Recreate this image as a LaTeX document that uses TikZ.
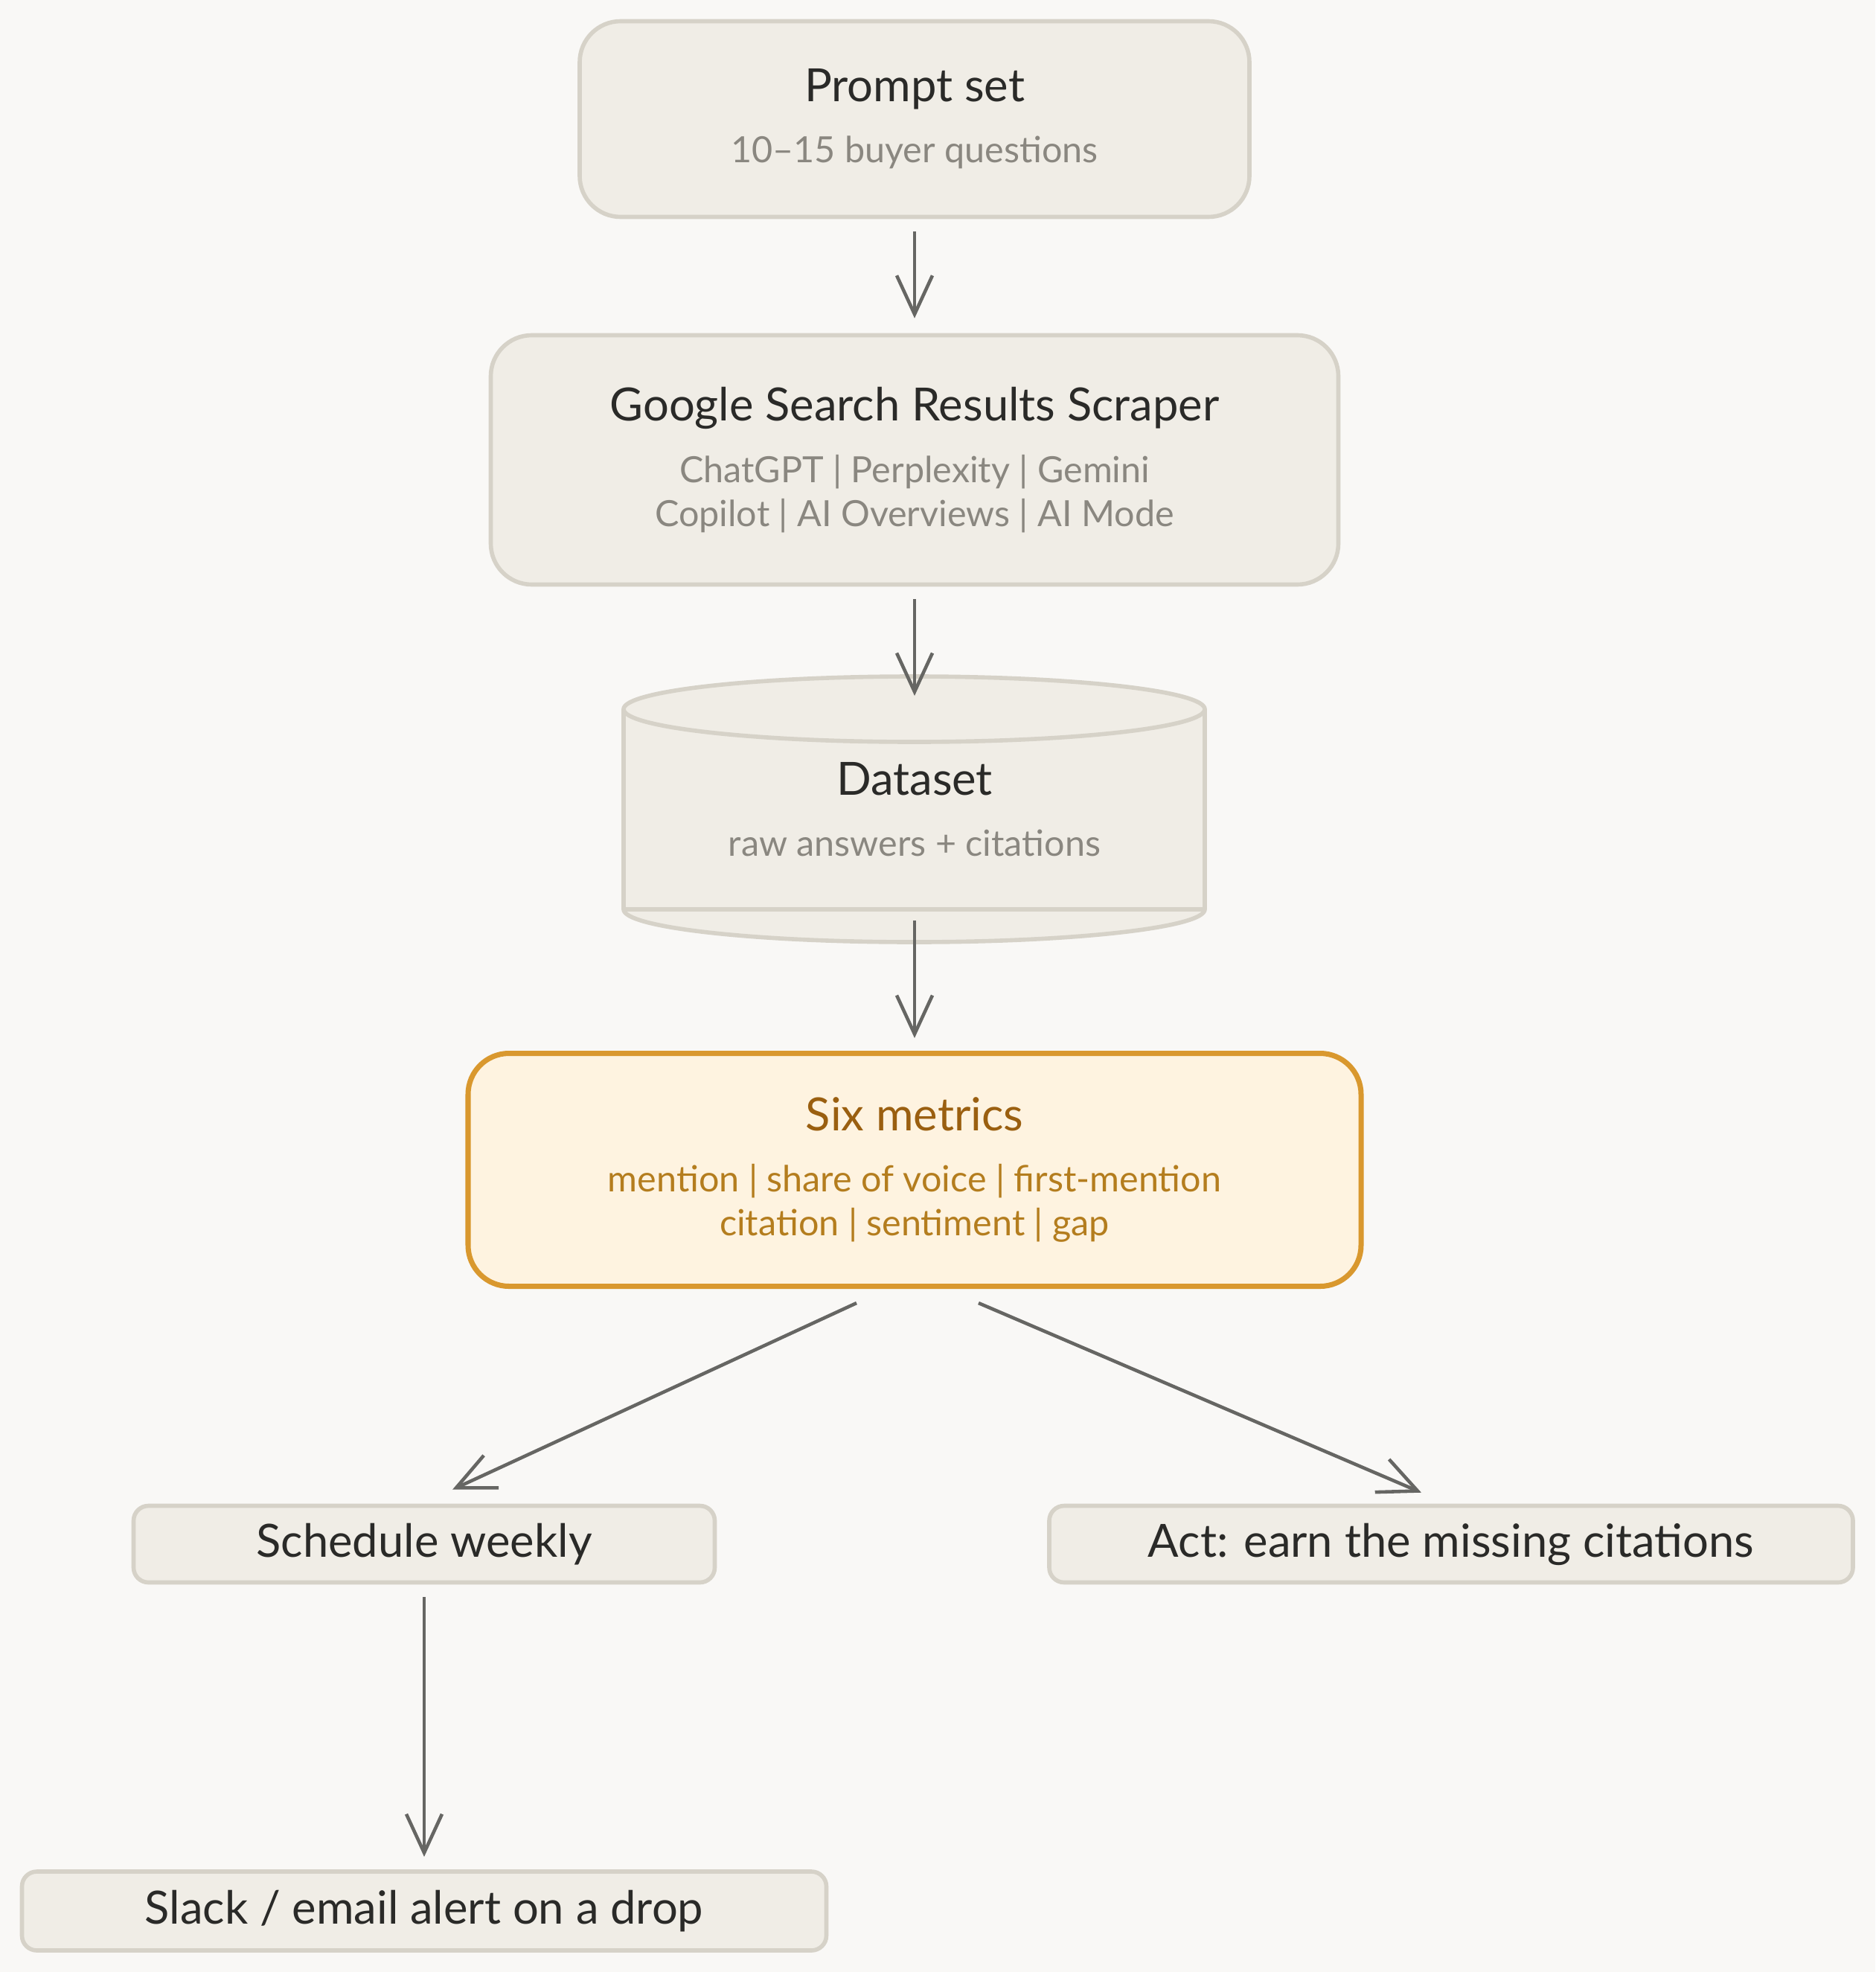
\documentclass[tikz,border=0pt]{standalone}
\usepackage{fontspec}
\setmainfont{Lato}
\definecolor{sketchbg}{HTML}{F9F8F6}
\definecolor{boxfill}{HTML}{F0EDE6}
\definecolor{boxline}{HTML}{D6D2C8}
\definecolor{inkdark}{HTML}{2A2A28}
\definecolor{inkgrey}{HTML}{8A8780}
\definecolor{arrowgrey}{HTML}{666663}
\definecolor{hlfill}{HTML}{FEF3E0}
\definecolor{hlline}{HTML}{D9982E}
\definecolor{hltitle}{HTML}{9A5F10}
\definecolor{hlsub}{HTML}{B47D1E}
\usetikzlibrary{arrows.meta,positioning,calc}
\newcommand{\titlefont}{\fontsize{17.5}{21}\selectfont}
\newcommand{\subfont}{\fontsize{13.8}{16.8}\selectfont}

\begin{document}
\begin{tikzpicture}[
    stage/.style={draw=boxline,line width=1.6pt,fill=boxfill,rounded corners=0.55cm,
                  align=center,font=\subfont,text=inkgrey,inner sep=0pt},
    hlstage/.style={stage,draw=hlline,line width=2pt,fill=hlfill,text=hlsub},
    smallstage/.style={stage,rounded corners=0.2cm,font=\titlefont,text=inkdark},
    flow/.style={draw=arrowgrey,line width=1.3pt,
                 -{Straight Barb[length=5.2mm,width=4.8mm]}}]
  \useasboundingbox[fill=sketchbg] (0,0) rectangle (25.2,-26.5);

  %% Prompt set (top)
  \node[stage,minimum width=9.0cm,minimum height=2.63cm] (prompt) at (12.29,-1.60)
        {{\titlefont\color{inkdark}Prompt set}\\[6.6pt]
         10--15 buyer questions};

  %% Scraper
  \node[stage,minimum width=11.39cm,minimum height=3.35cm] (scraper) at (12.29,-6.18)
        {{\titlefont\color{inkdark}Google Search Results Scraper}\\[6.6pt]
         ChatGPT | Perplexity | Gemini\\
         Copilot | AI Overviews | AI Mode};

  %% Dataset (cylinder)
  \path[fill=boxfill] (8.38,-9.53) -- (8.38,-12.22) arc (180:360:3.905 and 0.44)
        -- (16.19,-9.53) arc (0:180:3.905 and 0.44) -- cycle;
  \draw[boxline,line width=1.6pt] (8.38,-9.53) -- (8.38,-12.22) arc (180:360:3.905 and 0.44)
        -- (16.19,-9.53);
  \draw[boxline,line width=1.6pt] (12.285,-9.53) ellipse (3.905 and 0.44);
  \draw[boxline,line width=1.6pt] (8.38,-12.22) -- (16.19,-12.22);
  \node[align=center,font=\subfont,text=inkgrey] (data) at (12.29,-10.88)
        {{\titlefont\color{inkdark}Dataset}\\[6.6pt]
         raw answers + citations};
  \coordinate (datatop) at (12.29,-9.35);
  \coordinate (databot) at (12.29,-12.37);

  %% Six metrics (highlighted)
  \node[hlstage,minimum width=12.0cm,minimum height=3.13cm] (metrics) at (12.29,-15.72)
        {{\titlefont\color{hltitle}Six metrics}\\[6.6pt]
         mention | share of voice | first-mention\\
         citation | sentiment | gap};

  %% Outcomes
  \node[smallstage,minimum width=7.81cm,minimum height=1.03cm] (sched) at (5.70,-20.75)
        {Schedule weekly};
  \node[smallstage,minimum width=10.80cm,minimum height=1.03cm] (act) at (19.50,-20.75)
        {Act: earn the missing citations};
  \node[smallstage,minimum width=10.81cm,minimum height=1.06cm] (slack) at (5.70,-25.68)
        {Slack / email alert on a drop};

  %% Connectors
  \draw[flow,shorten <=0.17cm,shorten >=0.2cm] (prompt) -- (scraper);
  \draw[flow,shorten <=0.17cm] (scraper) -- (datatop);
  \draw[flow,shorten >=0.17cm] (databot) -- (metrics);
  \draw[flow] ([xshift=-0.78cm,yshift=-0.19cm]metrics.south)
        -- ([xshift=0.38cm,yshift=0.19cm]sched.north);
  \draw[flow] ([xshift=0.86cm,yshift=-0.19cm]metrics.south)
        -- ([xshift=-0.40cm,yshift=0.15cm]act.north);
  \draw[flow,shorten <=0.17cm,shorten >=0.17cm] (sched) -- (slack);
\end{tikzpicture}
\end{document}
